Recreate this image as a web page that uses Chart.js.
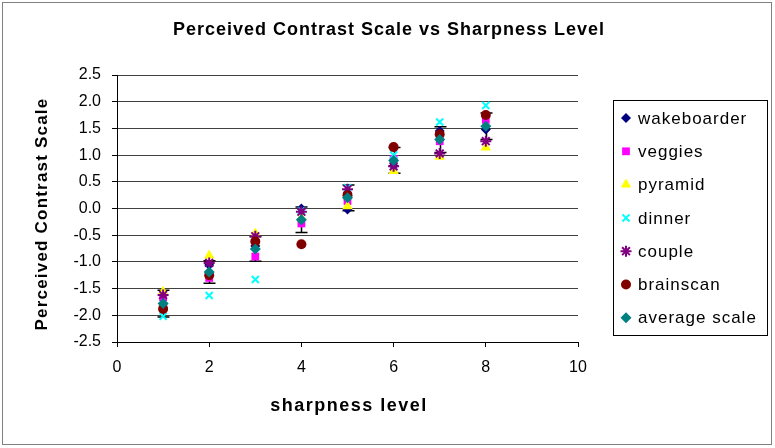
<!DOCTYPE html>
<html>
<head>
<meta charset="utf-8">
<script src="https://cdn.jsdelivr.net/npm/chart.js@4/dist/chart.umd.min.js"></script>
<style>
  body { margin: 0; background: #fff; }
  #wrap { position: relative; width: 775px; height: 448px; }
</style>
</head>
<body>
<div id="wrap"><canvas id="scatterChart" width="775" height="448"></canvas></div>
<script>
// values
const sharpness = [1, 2, 3, 4, 5, 6, 7, 8];
const wakeboarder = [-1.78, -1.06, -0.70, 0.00, -0.02, 0.80, 1.45, 1.48];
const veggies = [-1.66, -1.30, -0.90, -0.28, 0.14, 0.93, 1.26, 1.66];
const pyramid = [-1.56, -0.88, -0.47, -0.18, 0.04, 0.70, 0.97, 1.14];
const dinner = [-2.02, -1.63, -1.33, -0.04, 0.39, 1.00, 1.62, 1.93];
const couple = [-1.62, -1.02, -0.52, -0.06, 0.36, 0.79, 1.03, 1.26];
const brainscan = [-1.88, -1.25, -0.62, -0.67, 0.25, 1.15, 1.39, 1.75];
const averageScale = [-1.78, -1.19, -0.76, -0.21, 0.20, 0.90, 1.29, 1.54];
const averageError = [0.25, 0.21, 0.23, 0.24, 0.24, 0.24, 0.24, 0.25];
const yTicks = [-2.5, -2.0, -1.5, -1.0, -0.5, 0.0, 0.5, 1.0, 1.5, 2.0, 2.5];
const xTicks = [0, 2, 4, 6, 8, 10];

const seriesNames = ['wakeboarder', 'veggies', 'pyramid', 'dinner', 'couple', 'brainscan', 'average scale'];
const seriesValues = [wakeboarder, veggies, pyramid, dinner, couple, brainscan, averageScale];
const seriesColors = ['#000080', '#FF00FF', '#FFFF00', '#00FFFF', '#800080', '#800000', '#008080'];
const seriesStyles = ['rectRot', 'rect', 'triangle', 'crossRot', 'star', 'circle', 'rectRot'];
const seriesRadius = [5, 5.5, 6, 5, 5.5, 5, 5.5];

const chartTitle = 'Perceived Contrast Scale vs Sharpness Level';
const xTitle = 'sharpness level';
const yTitle = 'Perceived Contrast Scale';

const FONT = '"Liberation Sans", Arial, sans-serif';

function toPoints(values) {
  return values.map((v, i) => ({ x: sharpness[i], y: v }));
}

var datasets = seriesNames.map((name, i) => {
  const lineMark = seriesStyles[i] == 'crossRot' || seriesStyles[i] == 'star';
  return {
    label: name,
    data: toPoints(seriesValues[i]),
    pointStyle: seriesStyles[i],
    pointRadius: seriesRadius[i],
    pointHoverRadius: seriesRadius[i],
    backgroundColor: seriesColors[i],
    borderColor: seriesColors[i],
    pointBorderWidth: lineMark ? 2 : 0,
    order: seriesNames.length - i
  };
});

// error bars on the average series, drawn through the scales
const errorBars = {
  id: 'errorBars',
  beforeDatasetsDraw(chart) {
    const xs = chart.scales.x, ys = chart.scales.y, ctx = chart.ctx;
    ctx.save();
    ctx.strokeStyle = '#000';
    ctx.lineWidth = 1.5;
    averageScale.forEach((v, i) => {
      const px = Math.round(xs.getPixelForValue(sharpness[i])) + 0.5;
      const top = ys.getPixelForValue(v + averageError[i]);
      const bot = ys.getPixelForValue(v - averageError[i]);
      ctx.beginPath();
      ctx.moveTo(px, top); ctx.lineTo(px, bot);
      ctx.moveTo(px - 6, top); ctx.lineTo(px + 6, top);
      ctx.moveTo(px - 6, bot); ctx.lineTo(px + 6, bot);
      ctx.stroke();
    });
    ctx.restore();
  }
};

// titles (wide-spaced like the original), boxed legend, outer frame
const textAndLegend = {
  id: 'textAndLegend',
  afterDraw(chart) {
    const ctx = chart.ctx;
    ctx.save();
    ctx.fillStyle = '#000';
    ctx.textAlign = 'center';
    ctx.textBaseline = 'middle';

    ctx.letterSpacing = '1px';
    ctx.font = 'bold 18px ' + FONT;
    ctx.fillText(chartTitle, 389, 30);

    ctx.letterSpacing = '1.5px';
    ctx.font = 'bold 18px ' + FONT;
    ctx.fillText(xTitle, 349, 406);

    ctx.save();
    ctx.translate(42, 214);
    ctx.rotate(-Math.PI / 2);
    ctx.letterSpacing = '1.2px';
    ctx.font = 'bold 17px ' + FONT;
    ctx.fillText(yTitle, 0, 0);
    ctx.restore();

    ctx.strokeStyle = '#000';
    ctx.lineWidth = 1;
    ctx.strokeRect(613.5, 100.5, 154, 235);
    ctx.strokeStyle = '#808080';
    ctx.strokeRect(2.5, 2.5, 769, 442);

    ctx.textAlign = 'left';
    ctx.letterSpacing = '1px';
    ctx.font = '17px ' + FONT;
    seriesNames.forEach((name, i) => {
      const y = 118 + i * 33.3;
      const lineMark = seriesStyles[i] == 'crossRot' || seriesStyles[i] == 'star';
      ctx.fillStyle = seriesColors[i];
      ctx.strokeStyle = seriesColors[i];
      ctx.lineWidth = lineMark ? 2 : 0;
      Chart.helpers.drawPoint(ctx, {
        pointStyle: seriesStyles[i],
        radius: seriesRadius[i],
        borderWidth: lineMark ? 2 : 0,
        rotation: 0
      }, 626, y);
      ctx.fillStyle = '#000';
      ctx.fillText(name, 638, y + 1);
    });
    ctx.restore();
  }
};

var ctx = document.getElementById('scatterChart').getContext('2d');
new Chart(ctx, {
  type: 'scatter',
  data: { datasets: datasets },
  plugins: [errorBars, textAndLegend],
  options: {
    responsive: false,
    animation: false,
    events: [],
    layout: { padding: { left: 0, right: 197, top: 75, bottom: 0 } },
    plugins: {
      legend: { display: false },
      tooltip: { enabled: false },
      title: { display: false }
    },
    scales: {
      x: {
        type: 'linear',
        min: 0,
        max: 10,
        afterBuildTicks: (scale) => { scale.ticks = xTicks.map(v => ({ value: v })); },
        afterFit: (scale) => { scale.height = 106; },
        ticks: { color: '#000', padding: 11, font: { family: FONT, size: 16 } },
        grid: { drawOnChartArea: false, drawTicks: true, tickLength: 5, color: '#000' },
        border: { display: true, color: '#000', width: 1 }
      },
      y: {
        type: 'linear',
        min: -2.5,
        max: 2.5,
        afterBuildTicks: (scale) => { scale.ticks = yTicks.map(v => ({ value: v })); },
        afterFit: (scale) => { scale.width = 117; },
        ticks: {
          color: '#000',
          padding: 11,
          font: { family: FONT, size: 16 },
          callback: (v) => Number(v).toFixed(1)
        },
        grid: { drawTicks: true, tickLength: 5, color: '#404040', tickColor: '#000' },
        border: { display: true, color: '#000', width: 1 }
      }
    }
  }
});
</script>
</body>
</html>
